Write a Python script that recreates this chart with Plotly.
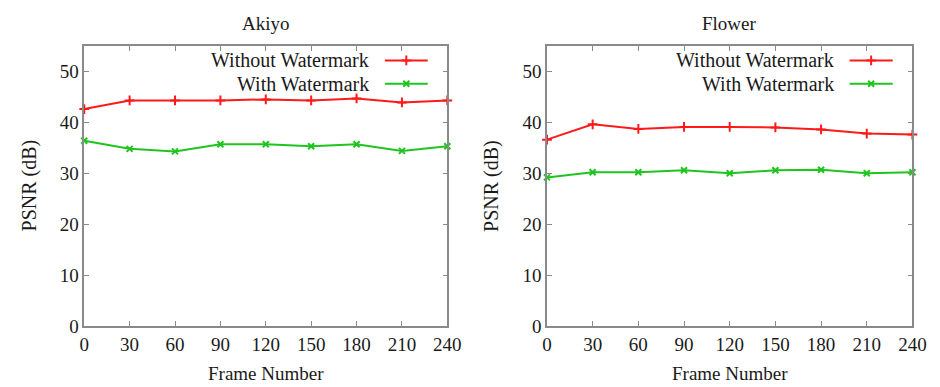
import plotly.graph_objects as go

frames = [0, 30, 60, 90, 120, 150, 180, 210, 240]
akiyo_without = [42.6, 44.3, 44.3, 44.3, 44.5, 44.3, 44.7, 43.9, 44.3]
akiyo_with = [36.4, 34.8, 34.3, 35.7, 35.7, 35.3, 35.7, 34.4, 35.3]
flower_without = [36.6, 39.6, 38.7, 39.1, 39.1, 39.0, 38.6, 37.8, 37.6]
flower_with = [29.2, 30.2, 30.2, 30.6, 30.0, 30.6, 30.7, 30.0, 30.2]
titles = ["Akiyo", "Flower"]
series_names = ["Without Watermark", "With Watermark"]
x_ticks = [0, 30, 60, 90, 120, 150, 180, 210, 240]
y_ticks = [0, 10, 20, 30, 40, 50]

RED = "#ff1a1a"
GREEN = "#1fc41f"
FONT = "Liberation Serif"
TXT = "#1a1a1a"
FRAME = "#8a8a8a"
XMAX, YMAX = 240, 55

W, H = 940, 387
domains_x = [(72.7 / W, 443.3 / W), (545.0 / W, 918.0 / W)]
dom_y = (1 - 327.5 / H, 1 - 39.0 / H)

fig = go.Figure()
data = [(akiyo_without, akiyo_with), (flower_without, flower_with)]
styles = [
    dict(color=RED, symbol="cross-thin", size=7),
    dict(color=GREEN, symbol="x-thin", size=6),
]

leg_text_x = 0.79
leg_line = (0.828, 0.946)
leg_rows = [0.948, 0.865]

for i, (s1, s2) in enumerate(data):
    xa = "x" if i == 0 else "x2"
    ya = "y" if i == 0 else "y2"
    for k, ys in enumerate((s1, s2)):
        st = styles[k]
        fig.add_trace(go.Scatter(
            x=frames, y=ys, mode="lines+markers", xaxis=xa, yaxis=ya,
            line=dict(color=st["color"], width=2),
            marker=dict(symbol=st["symbol"], size=st["size"],
                        line=dict(color=st["color"], width=2), color=st["color"]),
            showlegend=False, hoverinfo="skip", cliponaxis=False,
        ))
        # legend sample
        xref = "x domain" if i == 0 else "x2 domain"
        yref = "y domain" if i == 0 else "y2 domain"
        fig.add_shape(type="line", xref=xref, yref=yref,
                      x0=leg_line[0], x1=leg_line[1], y0=leg_rows[k], y1=leg_rows[k],
                      line=dict(color=st["color"], width=2))
        fig.add_trace(go.Scatter(
            x=[XMAX * (leg_line[0] + leg_line[1]) / 2], y=[YMAX * leg_rows[k]],
            mode="markers", xaxis=xa, yaxis=ya,
            marker=dict(symbol=st["symbol"], size=st["size"],
                        line=dict(color=st["color"], width=2), color=st["color"]),
            showlegend=False, hoverinfo="skip",
        ))
        fig.add_annotation(text=series_names[k], xref=xref, yref=yref,
                           x=leg_text_x, y=leg_rows[k], xanchor="right", yanchor="middle",
                           showarrow=False, font=dict(family=FONT, size=20, color=TXT))
    cx = (domains_x[i][0] + domains_x[i][1]) / 2
    fig.add_annotation(text=titles[i], xref="paper", yref="paper", x=cx, y=1 - 16 / H,
                       xanchor="center", yanchor="middle", showarrow=False,
                       font=dict(family=FONT, size=19, color=TXT))
    fig.add_annotation(text="Frame Number", xref="paper", yref="paper", x=cx, y=1 - 376 / H,
                       xanchor="center", yanchor="middle", showarrow=False,
                       font=dict(family=FONT, size=19, color=TXT))
    fig.add_annotation(text="PSNR (dB)", xref="paper", yref="paper",
                       x=(17 if i == 0 else 489) / W, y=1 - 183 / H, textangle=-90,
                       xanchor="center", yanchor="middle", showarrow=False,
                       font=dict(family=FONT, size=20, color=TXT))

axis_common = dict(showgrid=False, zeroline=False, showline=True, linecolor=FRAME,
                   linewidth=1.5, mirror="ticks", ticks="inside", ticklen=5,
                   tickcolor=FRAME, tickwidth=1.2,
                   tickfont=dict(family=FONT, size=19, color=TXT))

fig.update_layout(
    width=W, height=H, margin=dict(l=0, r=0, t=0, b=0),
    paper_bgcolor="white", plot_bgcolor="white",
    xaxis=dict(domain=list(domains_x[0]), range=[0, XMAX], tickvals=x_ticks,
               anchor="y", **axis_common),
    yaxis=dict(domain=list(dom_y), range=[0, YMAX], tickvals=y_ticks,
               anchor="x", **axis_common),
    xaxis2=dict(domain=list(domains_x[1]), range=[0, XMAX], tickvals=x_ticks,
                anchor="y2", **axis_common),
    yaxis2=dict(domain=list(dom_y), range=[0, YMAX], tickvals=y_ticks,
                anchor="x2", **axis_common),
)

fig.write_html("out.html")
